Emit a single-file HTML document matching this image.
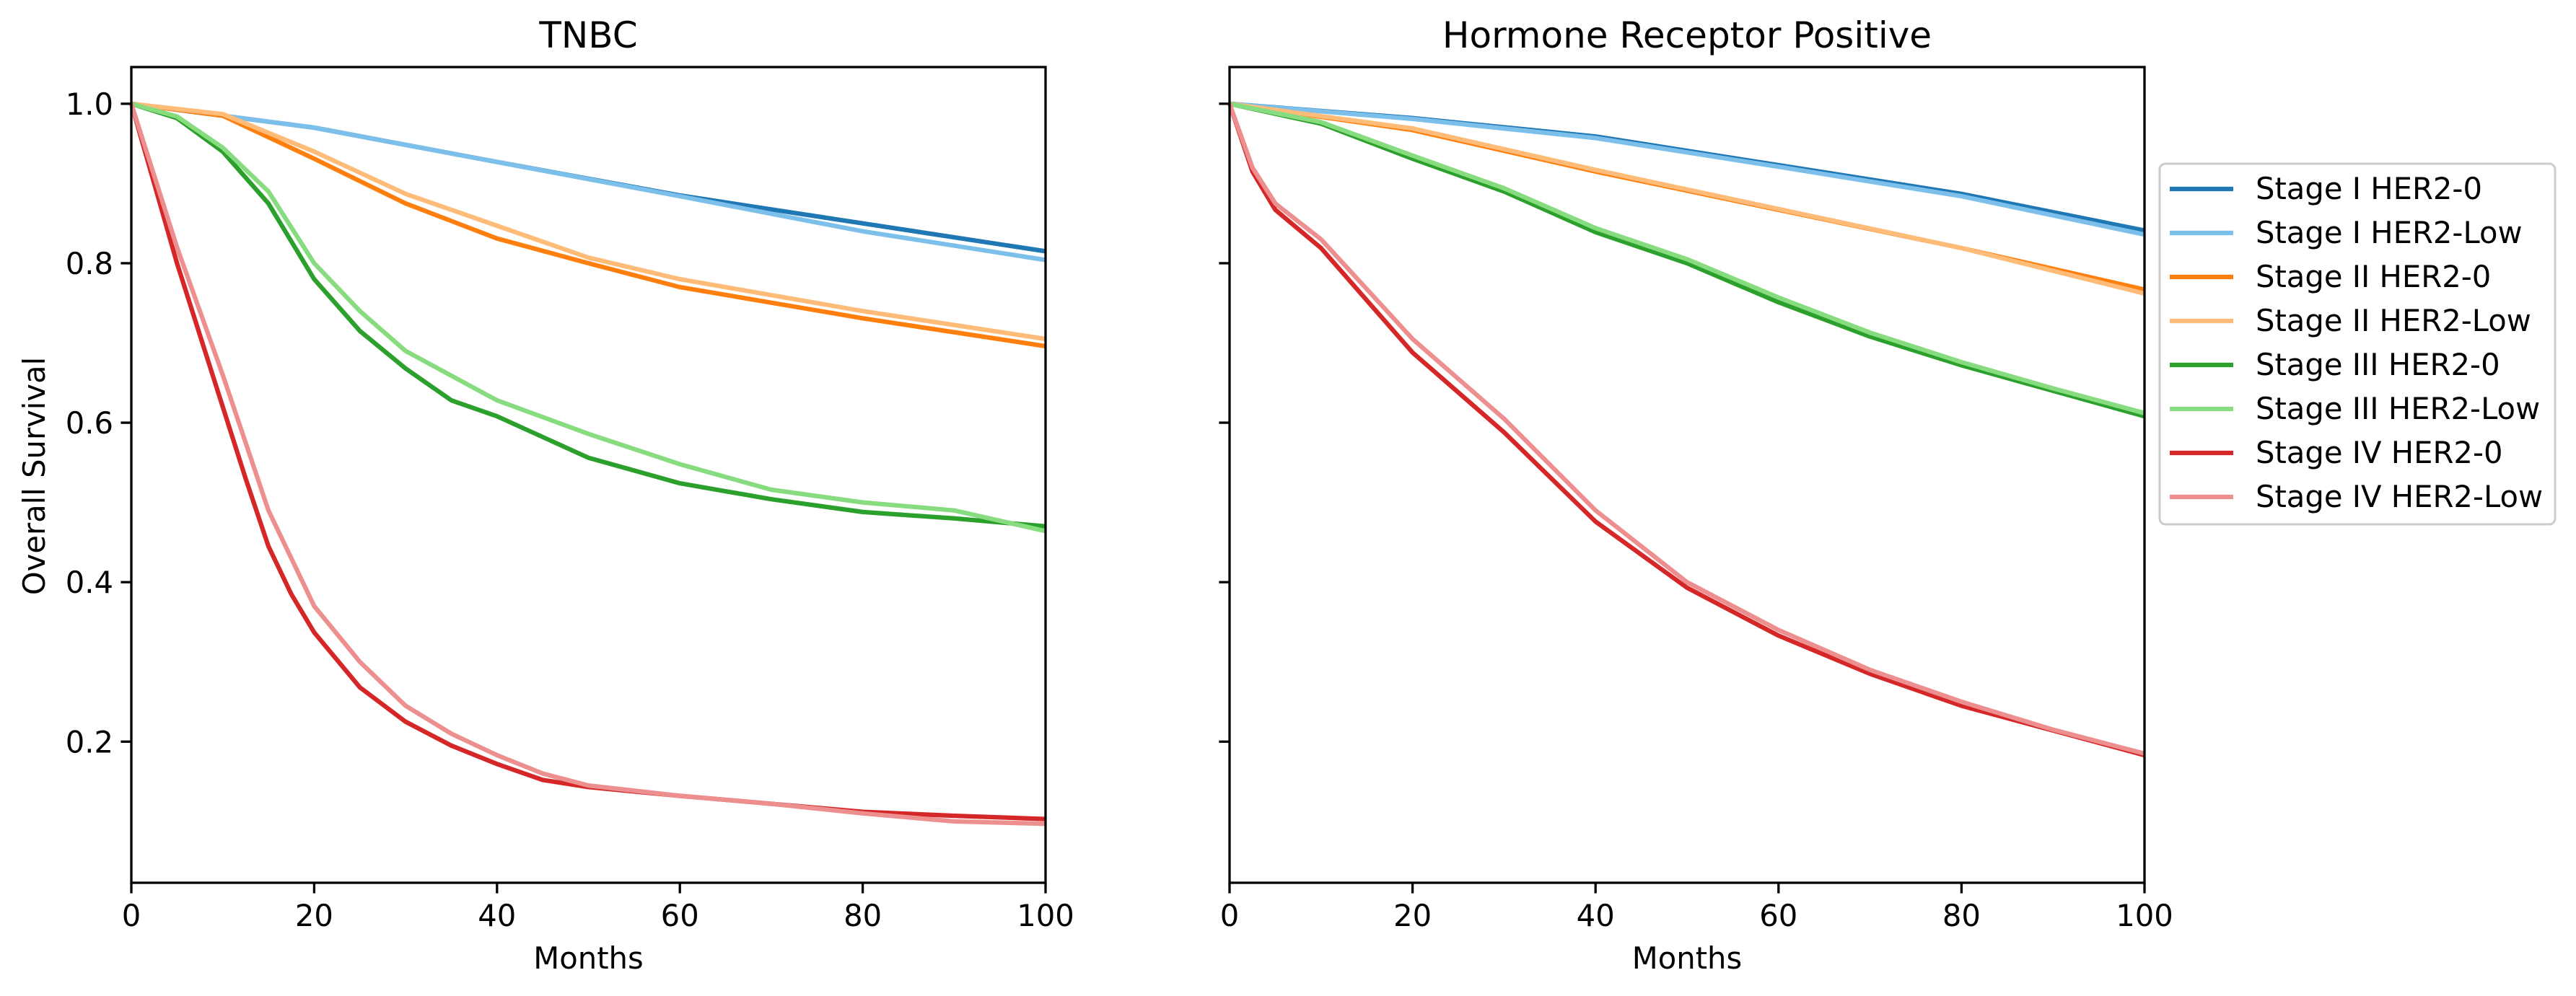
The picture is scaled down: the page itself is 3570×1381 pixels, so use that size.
<!DOCTYPE html>
<html><head><meta charset="utf-8"><style>
body{margin:0;background:#fff}
svg{display:block;font-family:"DejaVu Sans","Liberation Sans",sans-serif}
</style></head><body>
<svg id="c" width="3570" height="1381" viewBox="0 0 3570 1381"></svg>
<script>
const seriesNames=["Stage I HER2-0","Stage I HER2-Low","Stage II HER2-0","Stage II HER2-Low","Stage III HER2-0","Stage III HER2-Low","Stage IV HER2-0","Stage IV HER2-Low"];
const colors=["#1f77b4","#7bbfea","#ff7f0e","#ffbb78","#2ca02c","#88dc80","#d62728","#ee8f8f"];
const xTicks=[0,20,40,60,80,100];
const yTicks=[0.2,0.4,0.6,0.8,1.0];
// TNBC
const tnbcX=[[0,20,40,60,80,100],[0,20,40,60,80,100],[0,10,20,30,40,50,60,80,100],[0,10,20,30,40,50,60,80,100],
[0,5,10,15,20,25,30,35,40,50,60,70,80,90,100],[0,5,10,15,20,25,30,40,50,60,70,80,90,100],
[0,2.5,5,7.5,10,12.5,15,17.5,20,25,30,35,40,45,50,60,70,80,90,100],[0,2.5,5,7.5,10,12.5,15,17.5,20,25,30,35,40,45,50,60,70,80,90,100]];
const tnbcY=[[1,0.97,0.927,0.885,0.85,0.815],[1,0.97,0.927,0.884,0.84,0.804],
[1,0.985,0.931,0.875,0.831,0.8,0.77,0.731,0.696],[1,0.987,0.94,0.887,0.847,0.807,0.78,0.74,0.705],
[1,0.982,0.94,0.875,0.78,0.715,0.668,0.628,0.608,0.556,0.524,0.504,0.488,0.48,0.47],
[1,0.984,0.945,0.89,0.8,0.74,0.69,0.628,0.586,0.548,0.516,0.5,0.49,0.464],
[1,0.9,0.8,0.71,0.62,0.53,0.445,0.385,0.337,0.268,0.225,0.195,0.172,0.152,0.143,0.132,0.122,0.112,0.107,0.103],
[1,0.91,0.82,0.74,0.66,0.575,0.49,0.43,0.37,0.3,0.245,0.21,0.183,0.16,0.145,0.132,0.122,0.11,0.1,0.097]];
// HR+
const hrX=[[0,20,40,60,80,100],[0,20,40,60,80,100],[0,20,40,60,80,100],[0,20,40,60,80,100],
[0,10,20,30,40,50,60,70,80,90,100],[0,10,20,30,40,50,60,70,80,90,100],
[0,2.5,5,10,20,30,40,50,60,70,80,90,100],[0,2.5,5,10,20,30,40,50,60,70,80,90,100]];
const hrY=[[1,0.982,0.959,0.923,0.887,0.841],[1,0.981,0.957,0.921,0.884,0.836],
[1,0.967,0.915,0.867,0.819,0.767],[1,0.969,0.917,0.868,0.819,0.762],
[1,0.975,0.931,0.89,0.839,0.8,0.751,0.708,0.672,0.64,0.608],[1,0.977,0.935,0.894,0.844,0.805,0.757,0.713,0.676,0.643,0.612],
[1,0.915,0.867,0.819,0.688,0.588,0.476,0.393,0.333,0.285,0.245,0.214,0.183],
[1,0.92,0.875,0.83,0.705,0.605,0.49,0.4,0.34,0.29,0.25,0.215,0.185]];
const NS="http://www.w3.org/2000/svg";
const svg=document.getElementById('c');
function mk(t,a,p){const e=document.createElementNS(NS,t);for(const k in a)e.setAttribute(k,a[k]);(p||svg).appendChild(e);return e;}
const yTop=93,yBot=1224,yMin=0.023,yMax=1.046;
function panel(left,right,title,X,Y,showY,key){
  const g=mk('g',{});
  
  
  const sx=v=>left+(v/100)*(right-left);
  const sy=v=>yBot-(v-yMin)/(yMax-yMin)*(yBot-yTop);
  for(let i=0;i<X.length;i++){
    const pts=X[i].map((x,j)=>sx(x).toFixed(1)+','+sy(Y[i][j]).toFixed(1)).join(' ');
    const l=mk('polyline',{points:pts,fill:'none',stroke:colors[i],'stroke-width':6.25,'stroke-linejoin':'round'},g);
    
    
  }
  const fr=mk('rect',{x:left,y:yTop,width:right-left,height:yBot-yTop,fill:'none',stroke:'#000','stroke-width':3.3},g);
  
  
  xTicks.forEach(v=>{
    mk('line',{x1:sx(v),x2:sx(v),y1:yBot,y2:yBot+14.6,stroke:'#000','stroke-width':3.3},g);
    const t=mk('text',{x:sx(v),y:yBot+60,'font-size':41.7,'text-anchor':'middle'},g);t.textContent=v;
    
    
  });
  yTicks.forEach(v=>{
    mk('line',{x1:left,x2:left-14.6,y1:sy(v),y2:sy(v),stroke:'#000','stroke-width':3.3},g);
    if(showY){const t=mk('text',{x:left-25,y:sy(v)+15,'font-size':41.7,'text-anchor':'end'},g);t.textContent=v.toFixed(1);
    
    }
  });
  const tt=mk('text',{x:(left+right)/2,y:66,'font-size':50,'text-anchor':'middle'},g);tt.textContent=title;
  
  
  const xl=mk('text',{x:(left+right)/2,y:1343,'font-size':41.7,'text-anchor':'middle'},g);xl.textContent='Months';
  
  
}
panel(182,1449,'TNBC',tnbcX,tnbcY,true,'tnbc');
panel(1704,2972,'Hormone Receptor Positive',hrX,hrY,false,'hr');
const yl=mk('text',{x:0,y:0,'font-size':41.7,'text-anchor':'middle',transform:'translate(62,660) rotate(-90)'});yl.textContent='Overall Survival';


const lg=mk('g',{});


mk('rect',{x:2993,y:227,width:548,height:500,rx:8,fill:'#fff',stroke:'#ccc','stroke-width':3},lg);
seriesNames.forEach((n,i)=>{
  const y=262+i*61;
  const e=mk('g',{},lg);
  
  
  mk('line',{x1:3007,x2:3095,y1:y,y2:y,stroke:colors[i],'stroke-width':6.25},e);
  const t=mk('text',{x:3126,y:y+14,'font-size':41.7},e);t.textContent=n;
});
</script>
</body></html>
